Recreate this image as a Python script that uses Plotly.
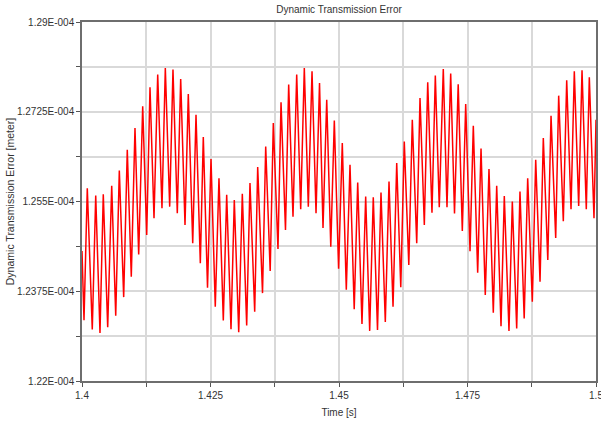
import plotly.graph_objects as go

# Time [s] of successive turning points (peaks / troughs)
time_s = [
    1.40000, 1.40039, 1.40103, 1.40200, 1.40267, 1.40350, 1.40414, 1.40500, 1.40578, 1.40656,
    1.40726, 1.40811, 1.40881, 1.40959, 1.41031, 1.41103, 1.41181, 1.41259, 1.41323, 1.41401,
    1.41473, 1.41556, 1.41621, 1.41706, 1.41770, 1.41854, 1.41920, 1.42004, 1.42068, 1.42154,
    1.42218, 1.42302, 1.42360, 1.42442, 1.42510, 1.42593, 1.42665, 1.42749, 1.42815, 1.42899,
    1.42963, 1.43049, 1.43119, 1.43204, 1.43268, 1.43360, 1.43418, 1.43512, 1.43574, 1.43661,
    1.43722, 1.43813, 1.43872, 1.43959, 1.44021, 1.44105, 1.44177, 1.44255, 1.44325, 1.44403,
    1.44475, 1.44553, 1.44621, 1.44689, 1.44761, 1.44840, 1.44909, 1.44992, 1.45064, 1.45142,
    1.45214, 1.45296, 1.45364, 1.45447, 1.45519, 1.45597, 1.45667, 1.45749, 1.45817, 1.45901,
    1.45973, 1.46051, 1.46123, 1.46202, 1.46270, 1.46358, 1.46426, 1.46512, 1.46576, 1.46660,
    1.46726, 1.46809, 1.46874, 1.46951, 1.47029, 1.47101, 1.47173, 1.47247, 1.47319, 1.47399,
    1.47465, 1.47549, 1.47613, 1.47698, 1.47763, 1.47846, 1.47918, 1.48002, 1.48068, 1.48152,
    1.48216, 1.48307, 1.48372, 1.48457, 1.48521, 1.48603, 1.48671, 1.48761, 1.48827, 1.48911,
    1.48975, 1.49062, 1.49125, 1.49216, 1.49274, 1.49364, 1.49430, 1.49514, 1.49578, 1.49663,
    1.49728, 1.49811, 1.49870, 1.49961, 1.50000,
]

# Dynamic transmission error, in units of 1e-4 m
dte_e4 = [
    1.24535, 1.23186, 1.25760, 1.23004, 1.25615, 1.22938, 1.25643, 1.23049, 1.25805, 1.23274,
    1.26104, 1.23636, 1.26508, 1.24032, 1.26932, 1.24466, 1.27355, 1.24847, 1.27726, 1.25174,
    1.27974, 1.25369, 1.28105, 1.25400, 1.28072, 1.25271, 1.27890, 1.25043, 1.27597, 1.24685,
    1.27192, 1.24294, 1.26757, 1.23821, 1.26327, 1.23446, 1.25955, 1.23180, 1.25629, 1.23010,
    1.25531, 1.22952, 1.25649, 1.23083, 1.25858, 1.23349, 1.26170, 1.23714, 1.26573, 1.24144,
    1.27030, 1.24574, 1.27433, 1.24945, 1.27779, 1.25205, 1.27974, 1.25350, 1.28105, 1.25400,
    1.28039, 1.25271, 1.27812, 1.24984, 1.27486, 1.24619, 1.27081, 1.24187, 1.26639, 1.23778,
    1.26215, 1.23401, 1.25869, 1.23114, 1.25596, 1.22977, 1.25584, 1.22997, 1.25674, 1.23153,
    1.25889, 1.23446, 1.26249, 1.23827, 1.26671, 1.24261, 1.27095, 1.24685, 1.27519, 1.25043,
    1.27824, 1.25283, 1.27955, 1.25389, 1.28085, 1.25389, 1.27994, 1.25264, 1.27785, 1.24925,
    1.27401, 1.24529, 1.26977, 1.24111, 1.26534, 1.23675, 1.26131, 1.23329, 1.25805, 1.23069,
    1.25609, 1.22975, 1.25498, 1.23024, 1.25693, 1.23219, 1.25955, 1.23544, 1.26313, 1.23935,
    1.26737, 1.24359, 1.27173, 1.24789, 1.27564, 1.25115, 1.27863, 1.25350, 1.28039, 1.25414,
    1.28058, 1.25350, 1.27921, 1.25174, 1.27095,
]

x_tickvals = [1.4, 1.4125, 1.425, 1.4375, 1.45, 1.4625, 1.475, 1.4875, 1.5]
x_ticktext = ["1.4", "", "1.425", "", "1.45", "", "1.475", "", "1.5"]
y_tickvals = [1.22e-4, 1.22875e-4, 1.2375e-4, 1.24625e-4, 1.255e-4,
              1.26375e-4, 1.2725e-4, 1.28125e-4, 1.29e-4]
y_ticktext = ["1.22E-004", "", "1.2375E-004", "", "1.255E-004",
              "", "1.2725E-004", "", "1.29E-004"]

dte_m = [v * 1e-4 for v in dte_e4]

fig = go.Figure()
fig.add_trace(go.Scatter(
    x=time_s, y=dte_m, mode="lines",
    line=dict(color="#ff0000", width=1.5),
    showlegend=False, hoverinfo="skip",
))

FONT = "Liberation Sans, Arial, sans-serif"
axis_common = dict(
    showline=True, linecolor="#6e6e6e", linewidth=1.5, mirror=True,
    showgrid=True, gridcolor="#d9d9d9", gridwidth=1.6,
    ticks="outside", ticklen=4, tickcolor="#555555", tickwidth=1,
    zeroline=False, automargin=False,
    tickfont=dict(family=FONT, size=10, color="#333333"),
)

fig.update_layout(
    width=601, height=421,
    margin=dict(l=82, r=5, t=22, b=40),
    paper_bgcolor="white", plot_bgcolor="white",
    font=dict(family=FONT, size=10, color="#333333"),
    title=dict(text="Dynamic Transmission Error", x=0.5, xref="paper",
               y=0.985, yref="container", yanchor="top",
               font=dict(family=FONT, size=10, color="#333333")),
    xaxis=dict(range=[1.4, 1.5], tickmode="array", tickvals=x_tickvals,
               ticktext=x_ticktext, ticklabeloverflow="allow",
               title=dict(text="Time [s]", standoff=9,
                          font=dict(family=FONT, size=10, color="#333333")),
               **axis_common),
    yaxis=dict(range=[1.22e-4, 1.29e-4], tickmode="array", tickvals=y_tickvals,
               ticktext=y_ticktext,
               title=dict(text="Dynamic Transmission Error [meter]", standoff=0,
                          font=dict(family=FONT, size=10.5, color="#333333")),
               **axis_common),
)

fig.write_html("out.html")
